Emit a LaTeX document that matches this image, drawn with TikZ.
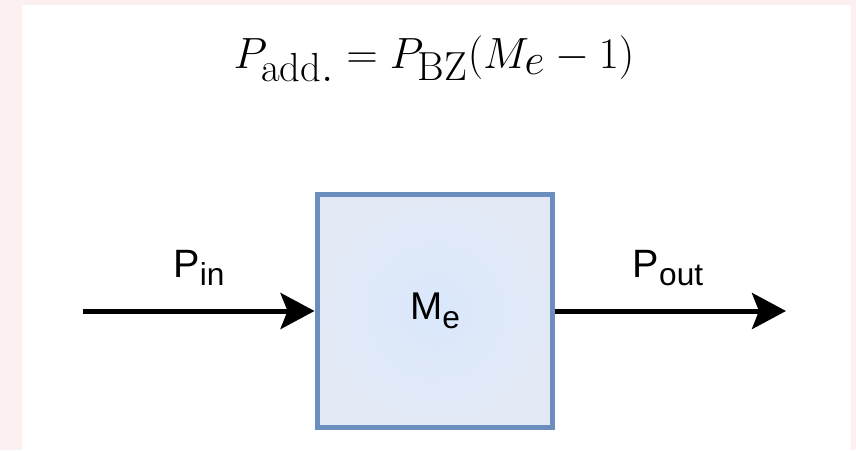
\documentclass[tikz,border=0pt]{standalone}
\usepackage{fontspec}
\usetikzlibrary{arrows.meta,positioning}
\newfontfamily\labelfont{Liberation Sans}
\definecolor{framepink}{RGB}{253,240,240}
\definecolor{blockblue}{RGB}{108,142,191}
\definecolor{blockfill}{RGB}{218,232,252}
\definecolor{blockedge}{RGB}{226,233,245}
\newcommand{\lowsub}[1]{\raisebox{-5pt}{\fontsize{18}{20}\selectfont #1}}

\begin{document}
\begin{tikzpicture}[
    x=0.02cm, y=-0.02cm,
    block/.style={rectangle, draw=blockblue, line width=0.1cm, inner color=blockfill, outer color=blockedge, minimum width=4.72cm, minimum height=4.68cm, font=\labelfont\fontsize{22}{26}\selectfont},
    sig/.style={anchor=base, font=\labelfont\fontsize{22.5}{26}\selectfont},
    flow/.style={-{Stealth[length=0.68cm, width=0.72cm, inset=0.14cm]}, line width=0.1cm, black}
]

% frame
\useasboundingbox (0,0) rectangle (856,450);
\fill[framepink] (0,0) rectangle (856,450);
\fill[white] (22,5) rectangle (851,450);

% formula
\node[anchor=base, font=\fontsize{33}{38}\selectfont] (eq) at (434,68) {$P_{\mathrm{add.}} = P_{\mathrm{BZ}}(M_e - 1)$};

% block and signals
\node[block] (blk) at (435,311) {M\lowsub{e}};
\coordinate (inStart) at (83,311);
\coordinate (outEnd) at (786,311);

\draw[flow] (inStart) -- (blk.west);
\draw[flow] (blk.east) -- (outEnd);

\node[sig] (pin) at (199,277) {P\lowsub{in}};
\node[sig] (pout) at (668,277) {P\lowsub{out}};

\end{tikzpicture}
\end{document}
